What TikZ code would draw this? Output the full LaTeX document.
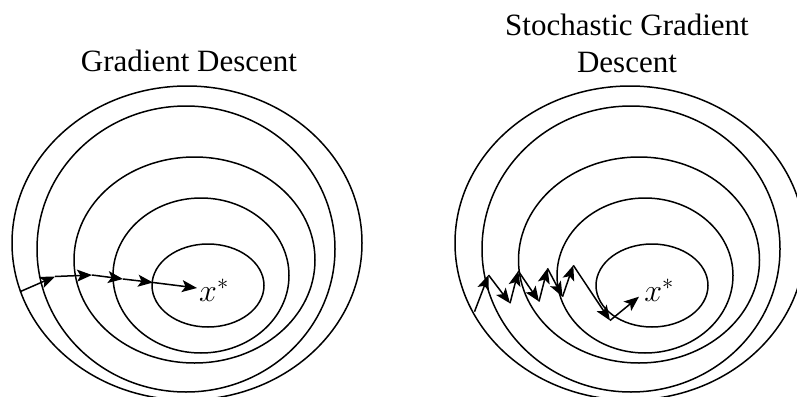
\documentclass[tikz,border=0pt]{standalone}
\DeclareFontShape{OML}{cmm}{m}{it}{<-6>cmmi5<6-7>cmmi6<7-8>cmmi7<8-9>cmmi8<9-10>cmmi9<10-12>cmmi10<12->cmmi12}{}
\DeclareFontShape{OMS}{cmsy}{m}{n}{<-6>cmsy5<6-7>cmsy6<7-8>cmsy7<8-9>cmsy8<9-10>cmsy9<10->cmsy10}{}
\usepackage{fontspec}
\setmainfont{Liberation Serif}
\usetikzlibrary{arrows.meta}
\begin{document}
\begin{tikzpicture}[x=1pt,y=-1pt,
  contour/.style={line width=1.5pt},
  stepline/.style={line width=1.5pt,-{Stealth[length=15pt,width=12pt,inset=3.5pt]}},
  titletext/.style={font=\fontsize{31}{37}\selectfont,inner sep=0pt,align=center},
  lbl/.style={font=\fontsize{32}{36}\selectfont,inner sep=0pt}]
\useasboundingbox (0,0) rectangle (797,396);
\clip (0,0) rectangle (797,396);
% Left panel
\node[titletext,anchor=base] (t1) at (189,71) {Gradient Descent};
\draw[contour] (187,243) ellipse [x radius=175, y radius=157];
\draw[contour] (186,249) ellipse [x radius=149, y radius=143];
\draw[contour] (194.5,260) ellipse [x radius=120.5, y radius=103];
\draw[contour] (201,275.5) ellipse [x radius=88, y radius=77.5];
\draw[contour] (208,285.5) ellipse [x radius=56, y radius=41.5];
\coordinate (g0) at (20,291.7);
\coordinate (g1) at (55,276.5);
\coordinate (g2) at (92,275);
\coordinate (g3) at (123,279);
\coordinate (g4) at (153,282.5);
\coordinate (g5) at (197,288);
\draw[stepline] (g0) -- (g1);
\draw[stepline] (g1) -- (g2);
\draw[stepline] (g2) -- (g3);
\draw[stepline] (g3) -- (g4);
\draw[stepline] (g4) -- (g5);
\node[lbl] (x1) at (214,290) {$x^*$};
% Right panel
\node[titletext,anchor=base] (t2a) at (627,36) {Stochastic Gradient};
\node[titletext,anchor=base] (t2b) at (627,73) {Descent};
\draw[contour] (630,243) ellipse [x radius=175, y radius=157];
\draw[contour] (631,249) ellipse [x radius=149, y radius=143];
\draw[contour] (639,260) ellipse [x radius=120.5, y radius=103];
\draw[contour] (645,275.5) ellipse [x radius=88, y radius=77.5];
\draw[contour] (652,285.5) ellipse [x radius=56, y radius=41.5];
\coordinate (s0) at (474.5,311.7);
\coordinate (s1) at (488.5,275);
\coordinate (s2) at (510,303.3);
\coordinate (s3) at (518.3,271);
\coordinate (s4) at (539,301.5);
\coordinate (s5) at (547.5,268.3);
\coordinate (s6) at (562.5,296.7);
\coordinate (s7) at (573.3,265.3);
\coordinate (s8) at (610,320.5);
\coordinate (s9) at (639,296.7);
\draw[stepline] (s0) -- (s1);
\draw[stepline] (s1) -- (s2);
\draw[stepline] (s2) -- (s3);
\draw[stepline] (s3) -- (s4);
\draw[stepline] (s4) -- (s5);
\draw[stepline] (s5) -- (s6);
\draw[stepline] (s6) -- (s7);
\draw[stepline] (s7) -- (s8);
\draw[stepline] (s8) -- (s9);
\node[lbl] (x2) at (659,290) {$x^*$};
\end{tikzpicture}
\end{document}
